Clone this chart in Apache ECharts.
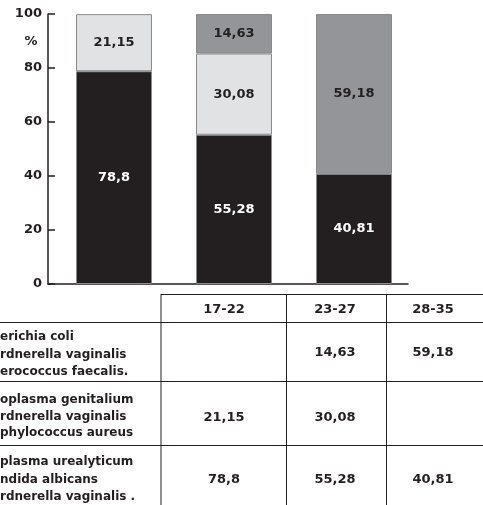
<!DOCTYPE html>
<html>
<head>
<meta charset="utf-8">
<script src="https://cdn.jsdelivr.net/npm/echarts@6/dist/echarts.min.js"></script>
<style>
  html, body { margin: 0; padding: 0; background: #fff; }
  #chart { width: 483px; height: 505px; }
</style>
</head>
<body>
<div id="chart"></div>
<script>
// age groups
var categories = ['17-22', '23-27', '28-35'];
// stacked shares, bottom to top
var groupA = [78.8, 55.28, 40.81];   // Ureaplasma / Candida / Gardnerella
var groupB = [21.15, 30.08, null];   // Mycoplasma / Gardnerella / Staphylococcus
var groupC = [null, 14.63, 59.18];   // Escherichia / Gardnerella / Enterococcus
var yTicks = [0, 20, 40, 60, 80, 100];

// table row captions (as visible in the picture), top row first
var rowNames = [
    ['erichia coli', 'rdnerella vaginalis', 'erococcus faecalis.'],
    ['oplasma genitalium', 'rdnerella vaginalis', 'phylococcus aureus'],
    ['plasma urealyticum', 'ndida albicans', 'rdnerella vaginalis .']
];
var rowValues = [groupC, groupB, groupA];

var FONT = 'DejaVu Sans';
var INK = '#231f20';

function fmt(v) {
    return v == null ? '' : String(v).replace('.', ',');
}

var chart = echarts.init(document.getElementById('chart'));

// ---- table drawn as graphic elements ----
var colX = [161, 286.5, 386.5];
var colCenter = [224, 335, 433];
var rowLines = [322.5, 381.5, 445.5];
var rowValueY = [353, 418, 480];
var rowNameY = [[337, 355, 372], [400, 417, 433], [462, 480, 497]];

var g = [];
function line(x1, y1, x2, y2) {
    g.push({
        type: 'line', silent: true,
        shape: {x1: x1, y1: y1, x2: x2, y2: y2},
        style: {stroke: INK, lineWidth: 1}
    });
}
function text(t, x, y, size, align) {
    g.push({
        type: 'text', silent: true, x: x, y: y,
        style: {
            text: t, fill: INK, font: 'bold ' + size + 'px "' + FONT + '"',
            align: align, verticalAlign: 'middle'
        }
    });
}

line(161, 294.5, 483, 294.5);
rowLines.forEach(function (y) { line(0, y, 483, y); });
colX.forEach(function (x) { line(x, 294, x, 505); });

categories.forEach(function (c, i) {
    text(c, colCenter[i], 310, 13, 'center');
});
rowNames.forEach(function (names, r) {
    names.forEach(function (n, k) {
        text(n, 0, rowNameY[r][k], 12, 'left');
    });
    rowValues[r].forEach(function (v, i) {
        text(fmt(v), colCenter[i], rowValueY[r], 13, 'center');
    });
});
text('%', 31, 42, 13, 'center');

function barSeries(name, data, color, labelColor) {
    return {
        name: name,
        type: 'bar',
        stack: 'total',
        xAxisIndex: 1,
        yAxisIndex: 1,
        barWidth: 76,
        data: data,
        itemStyle: {color: color, borderColor: '#8a8a8a', borderWidth: 1},
        label: {
            show: true,
            position: 'inside',
            color: labelColor,
            fontFamily: FONT,
            fontWeight: 'bold',
            fontSize: 13,
            formatter: function (p) { return fmt(p.value); }
        }
    };
}

chart.setOption({
    animation: false,
    backgroundColor: '#fff',
    grid: [
        {left: 48, right: 75, top: 14, bottom: 221},
        {left: 54, right: 69, top: 14, bottom: 221}
    ],
    xAxis: [
        {
            type: 'category', gridIndex: 0, data: categories,
            axisLine: {lineStyle: {color: INK, width: 1.5}},
            axisTick: {inside: true, length: 7, lineStyle: {color: INK, width: 1.5}},
            axisLabel: {show: false}
        },
        {type: 'category', gridIndex: 1, data: categories, show: false}
    ],
    yAxis: [
        {
            type: 'value', gridIndex: 0,
            min: yTicks[0], max: yTicks[yTicks.length - 1], interval: 20,
            axisLine: {show: true, lineStyle: {color: INK, width: 1.5}},
            axisTick: {show: true, inside: true, length: 7, lineStyle: {color: INK, width: 1.5}},
            splitLine: {show: false},
            axisLabel: {
                margin: 6, color: INK, fontFamily: FONT, fontWeight: 'bold', fontSize: 13
            }
        },
        {
            type: 'value', gridIndex: 1,
            min: yTicks[0], max: yTicks[yTicks.length - 1], show: false
        }
    ],
    series: [
        barSeries('A', groupA, '#231f20', '#ffffff'),
        barSeries('B', groupB, '#e1e2e4', INK),
        barSeries('C', groupC, '#939598', INK)
    ],
    graphic: g
});
</script>
</body>
</html>
